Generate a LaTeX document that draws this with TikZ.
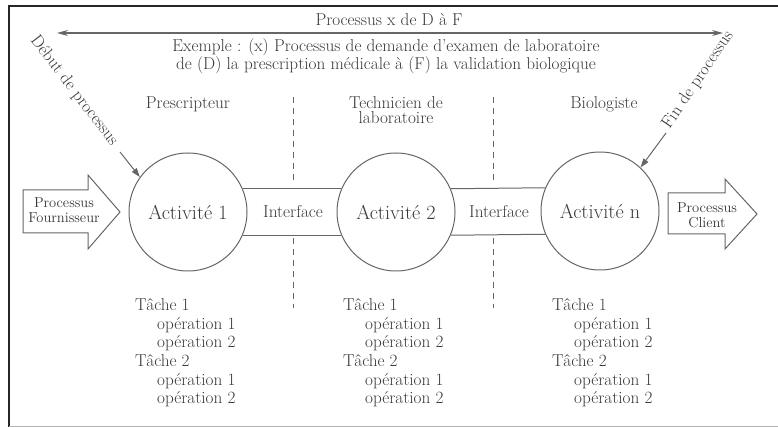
\documentclass[tikz,border=0pt]{standalone}
\usepackage{fontspec}
\usetikzlibrary{arrows.meta}
\definecolor{ink}{gray}{0.22}
\definecolor{linec}{gray}{0.40}
\begin{document}
\begin{tikzpicture}[x=1pt,y=-1pt,
  txt/.style={text=ink, inner sep=0pt, font=\fontsize{17.2}{18}\selectfont},
  task/.style={txt, anchor=base west},
  actv/.style={circle, draw=linec, line width=1pt, minimum size=118pt, inner sep=0pt, text=ink, font=\fontsize{20.2}{22}\selectfont},
  band/.style={draw=linec, line width=1pt},
  sep/.style={draw=linec, line width=1pt, dash pattern=on 6pt off 5pt},
  blockarrow/.style={draw=linec, line width=1pt, fill=white},
  atxt/.style={text=ink, inner sep=0pt, align=center, font=\fontsize{14.5}{15}\selectfont},
  ptr/.style={draw=linec, line width=1pt, -{Triangle[length=9pt,width=6pt]}},
  span/.style={draw=linec, line width=1.4pt, {Stealth[length=11pt,width=6pt]}-{Stealth[length=11pt,width=6pt]}}
]
\useasboundingbox (0,0) rectangle (778,427);
% frame
\draw[line width=2pt, black!85] (8,6) -- (778,6);
\draw[line width=2pt, black!85] (9,5) -- (9,427);
\draw[line width=1pt, black!30] (9,426) -- (778,426);

% top span arrow and titles
\coordinate (dl) at (57,33);
\coordinate (dr) at (723,33);
\draw[span] (dl) -- (dr);
\node[txt] (title) at (389,20) {Processus x de D à F};
\node[txt, align=center] (ex) at (386,56) {Exemple : (x) Processus de demande d'examen de laboratoire\\de (D) la prescription médicale à (F) la validation biologique};

% column headers
\node[txt] (h1) at (188,104) {Prescripteur};
\node[txt, align=center, font=\fontsize{17.2}{14.5}\selectfont] (h2) at (396,110) {Technicien de\\laboratoire};
\node[txt] (h3) at (604,104) {Biologiste};

% dashed separators
\coordinate (d1a) at (293,97); \coordinate (d1b) at (293,183);
\coordinate (d1c) at (293,238); \coordinate (d1d) at (293,308);
\coordinate (d2a) at (493,97); \coordinate (d2b) at (493,183);
\coordinate (d2c) at (493,238); \coordinate (d2d) at (493,308);
\draw[sep] (d1a) -- (d1b); \draw[sep] (d1c) -- (d1d);
\draw[sep] (d2a) -- (d2b); \draw[sep] (d2c) -- (d2d);

% activities
\node[actv] (a1) at (188,212) {Activité 1};
\node[actv] (a2) at (396,212) {Activité 2};
\node[actv] (an) at (600,211) {Activité n};

% interface bands
\draw[band] (a1.23) -- (a2.157);
\draw[band] (a1.-23) -- (a2.-157);
\draw[band] (a2.23) -- (an.157);
\draw[band] (a2.-23) -- (an.-157);
\node[txt] (i1) at (293,212) {Interface};
\node[txt] (i2) at (499,212) {Interface};

% supplier / client block arrows
\draw[blockarrow] (23,190) -- (88,190) -- (88,175) -- (120,212) -- (88,249) -- (88,233) -- (23,233) -- cycle;
\node[atxt] (pf) at (64,210) {Processus\\Fournisseur};
\draw[blockarrow] (668,193) -- (725,193) -- (725,179) -- (757,214) -- (725,249) -- (725,234) -- (668,234) -- cycle;
\node[atxt] (pc) at (707,215) {Processus\\Client};

% start / end labels
\node[txt, rotate=-52.6] (deb) at (74,91) {Début de processus};
\node[txt, rotate=56] (fin) at (698,80) {Fin de processus};
\coordinate (ds) at (120,152);
\coordinate (fs) at (666,133);
\draw[ptr] (ds) -- (a1.144);
\draw[ptr] (fs) -- (an.47);

% tasks
\foreach \x/\c in {135/1, 343/2, 552/3} {
  \node[task] (c\c t1) at (\x,310) {Tâche 1};
  \node[task] (c\c o11) at (\x+22,329) {opération 1};
  \node[task] (c\c o12) at (\x+22,347.5) {opération 2};
  \node[task] (c\c t2) at (\x,366) {Tâche 2};
  \node[task] (c\c o21) at (\x+22,385) {opération 1};
  \node[task] (c\c o22) at (\x+22,403.5) {opération 2};
}
\end{tikzpicture}
\end{document}
